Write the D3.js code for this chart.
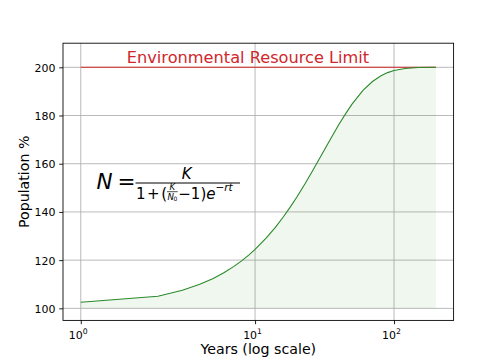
<!DOCTYPE html>
<html>
<head>
<meta charset="utf-8">
<script src="https://cdn.jsdelivr.net/npm/d3@7"></script>
<style>
  body { margin: 0; background: #fff; }
  text { font-family: "DejaVu Sans", sans-serif; }
</style>
</head>
<body>
<div id="chart"></div>
<script>
// data
const years = [1, 2, 3, 4, 5, 6, 7, 8, 9, 10, 12, 14, 16, 18, 20, 23, 26, 30, 35, 40, 45, 50, 60, 70, 80, 90, 100, 120, 150, 200];
const population = [102.5, 105.0, 107.5, 110.0, 112.4, 114.9, 117.3, 119.7, 122.1, 124.5, 129.1, 133.6, 138.0, 142.2, 146.2, 151.9, 157.2, 163.5, 170.4, 176.2, 180.9, 184.8, 190.5, 194.1, 196.4, 197.8, 198.7, 199.5, 199.9, 200.0];
const limitValue = 200;
const limitSpan = [1, 200];
const baseValue = 100;
const xTicks = [1, 10, 100];
const xTickExp = ["0", "1", "2"];
const yTicks = [100, 120, 140, 160, 180, 200];
const yDomain = [95, 210];

const TITLE = "Environmental Resource Limit";
const X_LABEL = "Years (log scale)";
const Y_LABEL = "Population %";

const width = 504, height = 360;
const plot = { left: 63, right: 453.6, top: 43.2, bottom: 320.4 };
const lineGreen = "#2a8a2a";
const red = "#d0262b";
const gridGrey = "#b0b0b0";

// matplotlib style symlog (linthresh 2)
const linthresh = 2;
const linAdj = 1 / (1 - 1 / 10);
function symlog(v) {
    const a = Math.abs(v);
    if (a <= linthresh) return v * linAdj;
    return Math.sign(v) * linthresh * (linAdj + Math.log10(a / linthresh));
}

const tMin = symlog(d3.min(years)), tMax = symlog(d3.max(years));
const tPad = (tMax - tMin) * 0.05;

const x = d3.scaleLinear()
    .domain([tMin - tPad, tMax + tPad])
    .range([plot.left, plot.right]);
const xPos = d => x(symlog(d));

const y = d3.scaleLinear()
    .domain(yDomain)
    .range([plot.bottom, plot.top]);

const data = years.map((yr, i) => [yr, population[i]]);

const svg = d3.select("#chart")
    .append("svg")
        .attr("width", width)
        .attr("height", height);

// grid
const grid = svg.append("g").attr("stroke", gridGrey).attr("stroke-width", 0.875);
grid.selectAll(".gx")
    .data(xTicks)
    .enter()
    .append("line")
        .attr("x1", d => xPos(d)).attr("x2", d => xPos(d))
        .attr("y1", plot.top).attr("y2", plot.bottom);
grid.selectAll(".gy")
    .data(yTicks)
    .enter()
    .append("line")
        .attr("x1", plot.left).attr("x2", plot.right)
        .attr("y1", d => y(d)).attr("y2", d => y(d));

// fill under curve
const area = d3.area()
    .x(d => xPos(d[0]))
    .y0(y(baseValue))
    .y1(d => y(d[1]));
svg.append("path")
    .datum(data)
    .attr("d", area)
    .attr("fill", "#228b22")
    .attr("fill-opacity", 0.07);

// limit line
svg.append("line")
    .attr("x1", xPos(limitSpan[0])).attr("x2", xPos(limitSpan[1]))
    .attr("y1", y(limitValue)).attr("y2", y(limitValue))
    .attr("stroke", red)
    .attr("stroke-width", 1.1);

// curve
const line = d3.line()
    .x(d => xPos(d[0]))
    .y(d => y(d[1]));
svg.append("path")
    .datum(data)
    .attr("d", line)
    .attr("fill", "none")
    .attr("stroke", lineGreen)
    .attr("stroke-width", 1.1);

// axes
const xAxis = d3.axisBottom(x)
    .tickValues(xTicks.map(symlog))
    .tickSizeOuter(0)
    .tickSize(3.8)
    .tickPadding(3.8)
    .tickFormat(() => "10");
const gx = svg.append("g")
    .attr("transform", `translate(0, ${ plot.bottom })`)
    .call(xAxis);
gx.select(".domain").remove();
gx.selectAll(".tick line").attr("stroke-width", 0.875);
gx.selectAll(".tick text")
    .attr("font-family", "DejaVu Sans")
    .attr("font-size", 10.94)
    .attr("fill", "#000")
    .attr("y", 18.2)
    .attr("dy", 0)
    .attr("dx", -3)
    .append("tspan")
        .attr("font-size", 7.7)
        .attr("dy", -4.2)
        .text((d, i) => xTickExp[i]);

const yAxis = d3.axisLeft(y)
    .tickValues(yTicks)
    .tickSizeOuter(0)
    .tickSize(3.8)
    .tickPadding(3.8);
const gy = svg.append("g")
    .attr("transform", `translate(${ plot.left }, 0)`)
    .call(yAxis);
gy.select(".domain").remove();
gy.selectAll(".tick line").attr("stroke-width", 0.875);
gy.selectAll(".tick text")
    .attr("font-family", "DejaVu Sans")
    .attr("font-size", 10.94)
    .attr("fill", "#000")
    .attr("dy", "0.36em");

// frame
svg.append("rect")
    .attr("x", plot.left).attr("y", plot.top)
    .attr("width", plot.right - plot.left)
    .attr("height", plot.bottom - plot.top)
    .attr("fill", "none")
    .attr("stroke", "#000")
    .attr("stroke-width", 0.875);

// labels
svg.append("text")
    .attr("x", (plot.left + plot.right) / 2)
    .attr("y", 354)
    .attr("text-anchor", "middle")
    .attr("font-size", 14.2)
    .text(X_LABEL);

svg.append("text")
    .attr("transform", "translate(28.5, 181.8) rotate(-90)")
    .attr("text-anchor", "middle")
    .attr("font-size", 14.2)
    .text(Y_LABEL);

svg.append("text")
    .attr("x", 248)
    .attr("y", 63)
    .attr("text-anchor", "middle")
    .attr("font-size", 16.2)
    .attr("fill", red)
    .text(TITLE);

// equation N = K / (1 + (K/N0 - 1) e^{-rt}), laid out piece by piece
const eq = svg.append("g").attr("fill", "#000");
const F = 21.5, F1 = 15, F2 = 8.6, FS = 10.5;
function put(txt, px, py, size, italic, anchor) {
    return eq.append("text")
        .attr("x", px).attr("y", py)
        .attr("font-size", size)
        .attr("font-style", italic ? "italic" : "normal")
        .attr("text-anchor", anchor || "start")
        .text(txt);
}
function adv(node) { return node.node().getComputedTextLength(); }
function bar(x1, x2, yy, w) {
    eq.append("line")
        .attr("x1", x1).attr("x2", x2)
        .attr("y1", yy).attr("y2", yy)
        .attr("stroke", "#000").attr("stroke-width", w);
}
put("N", 96.5, 189, F, true);
put("=", 117.5, 189, F, false);

const denBase = 199, supBase = 191;
let cx = 136;
cx += adv(put("1", cx, denBase, F1, false)) + 1.5;
cx += adv(put("+", cx, denBase, F1, false)) + 1.5;
cx += adv(put("(", cx, denBase, F1, false));
// inner fraction K / N0
const innerStart = cx;
const nNode = put("N", cx + 0.5, denBase + 0.5, F2, true);
const subNode = put("0", cx + adv(nNode), denBase + 2, F2 * 0.7, false);
const innerW = adv(nNode) + adv(subNode) + 0.5;
put("K", innerStart + innerW / 2, 189.5, F2, true, "middle");
bar(innerStart, innerStart + innerW, 191.7, 0.7);
cx = innerStart + innerW + 0.5;
cx += adv(put("−", cx, denBase, F1, false));
cx += adv(put("1", cx, denBase, F1, false));
cx += adv(put(")", cx, denBase, F1, false));
cx += adv(put("e", cx, denBase, F1, true));
cx += adv(put("−", cx, supBase, FS, false));
cx += adv(put("r", cx, supBase, FS, true));
cx += adv(put("t", cx, supBase, FS, true));

const barEnd = Math.max(cx + 6, 240);
bar(135.5, barEnd, 183, 1);
put("K", (135.5 + barEnd) / 2 - 1, 179, F1, true, "middle");
</script>
</body>
</html>
